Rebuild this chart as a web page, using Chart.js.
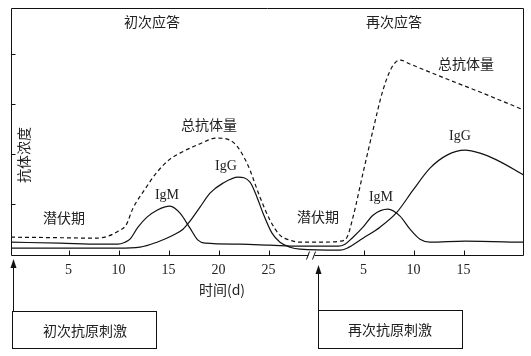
<!DOCTYPE html>
<html><head><meta charset="utf-8">
<script src="https://cdn.jsdelivr.net/npm/chart.js@4"></script>
<style>html,body{margin:0;padding:0;background:#fff}#wrap{width:531px;height:356px}</style>
</head><body><div id="wrap"><canvas id="c" width="531" height="356"></canvas></div>
<script>
// Continuous time axis: primary response in days; the secondary response is drawn after an axis break,
// its day 0 sitting at SECOND_OFFSET on the continuous axis.
const SECOND_OFFSET = 29.5;
const BREAK_AT = 29.3;
const tickValues = [5, 10, 15, 20, 25, SECOND_OFFSET + 5, SECOND_OFFSET + 10, SECOND_OFFSET + 15];
const tickLabels = ['5', '10', '15', '20', '25', '5', '10', '15'];
const yTickValues = [1, 2, 3, 4];

// 总抗体量 (dashed)
const totalX = [-0.75, 4.15, 7.65, 8.95, 9.95, 10.75, 11.45, 12.65, 13.85, 15.15, 16.15, 17.85, 19.85, 21.45, 22.85, 24.15, 25.15, 26.15, 27.15, 28.15, 30.15, 32.15, 32.85, 33.45, 34.45, 35.45, 36.45, 37.35, 38.15, 39.15, 42.85, 46.15, 50.55];
const totalY = [0.34, 0.33, 0.32, 0.36, 0.46, 0.58, 0.92, 1.30, 1.64, 1.90, 2.02, 2.18, 2.32, 2.24, 1.82, 1.14, 0.68, 0.38, 0.28, 0.24, 0.24, 0.26, 0.34, 0.74, 1.62, 2.48, 3.28, 3.74, 3.88, 3.80, 3.50, 3.24, 2.88];

// IgM (solid)
const igmX = [-0.75, 4.15, 8.15, 9.95, 10.65, 11.15, 11.95, 12.85, 13.85, 15.15, 16.15, 17.15, 17.95, 18.65, 22.15, 25.15, 28.15, 31.95, 32.65, 33.35, 34.45, 35.45, 36.95, 38.15, 39.15, 40.15, 41.15, 44.65, 50.55];
const igmY = [0.24, 0.22, 0.20, 0.20, 0.24, 0.30, 0.54, 0.74, 0.88, 0.96, 0.82, 0.52, 0.28, 0.22, 0.20, 0.18, 0.16, 0.16, 0.20, 0.32, 0.54, 0.78, 0.90, 0.76, 0.50, 0.30, 0.24, 0.26, 0.24];

// IgG (solid)
const iggX = [-0.75, 4.15, 9.95, 12.15, 13.85, 15.45, 16.45, 17.15, 18.15, 19.15, 20.45, 21.95, 23.15, 23.85, 24.45, 25.35, 26.15, 27.15, 28.15, 32.15, 32.85, 34.45, 36.15, 37.85, 39.45, 41.15, 42.85, 44.65, 46.15, 47.85, 50.55];
const iggY = [0.12, 0.12, 0.12, 0.14, 0.24, 0.38, 0.50, 0.66, 0.94, 1.22, 1.42, 1.54, 1.44, 1.14, 0.82, 0.42, 0.24, 0.14, 0.10, 0.08, 0.12, 0.32, 0.54, 0.84, 1.28, 1.72, 1.98, 2.08, 2.02, 1.88, 1.58];

const pts = (xs, ys) => xs.map((v, i) => ({x: v, y: ys[i]}));

const CJK = '"Noto Sans CJK SC", sans-serif';
const SERIF = '"Liberation Serif", "DejaVu Serif", serif';
const INK = '#111';

const deco = {
  id: 'deco',
  afterDraw(chart) {
    const {ctx, chartArea: a, scales: {x, y}} = chart;
    ctx.save();
    ctx.strokeStyle = INK; ctx.lineWidth = 1;
    const L = Math.round(a.left) + 0.5, R = Math.round(a.right) - 0.5;
    const T = Math.round(a.top) + 0.5, B = Math.round(a.bottom) - 0.5;
    const bx = x.getPixelForValue(BREAK_AT);
    // frame with axis break on the bottom
    ctx.beginPath();
    ctx.moveTo(bx - 3, B); ctx.lineTo(L, B); ctx.lineTo(L, T); ctx.lineTo(R, T); ctx.lineTo(R, B); ctx.lineTo(bx + 3, B);
    ctx.stroke();
    // break slashes
    ctx.beginPath();
    [bx - 3, bx + 3].forEach(sx => { ctx.moveTo(sx - 2, B + 4); ctx.lineTo(sx + 1, B - 4); });
    ctx.stroke();
    // inward tick marks
    ctx.beginPath();
    yTickValues.forEach(v => { const py = Math.round(y.getPixelForValue(v)) + 0.5; ctx.moveTo(L, py); ctx.lineTo(L + 4, py); });
    tickValues.forEach(v => { const px = Math.round(x.getPixelForValue(v)) + 0.5; ctx.moveTo(px, B); ctx.lineTo(px, B - 5); });
    ctx.stroke();

    // texts
    ctx.fillStyle = '#222'; ctx.textAlign = 'center'; ctx.textBaseline = 'middle';
    ctx.font = '14px ' + CJK;
    const cjkTexts = [['初次应答', 152, 22], ['再次应答', 394, 22], ['总抗体量', 209, 125], ['总抗体量', 466, 64],
      ['潜伏期', 64, 218], ['潜伏期', 318, 217], ['时间(d)', 222, 290]];
    cjkTexts.forEach(([t, px, py]) => ctx.fillText(t, px, py));
    ctx.font = '14px ' + SERIF;
    [['IgM', 167, 195], ['IgG', 226, 166], ['IgM', 381, 197], ['IgG', 460, 136]].forEach(([t, px, py]) => ctx.fillText(t, px, py));
    // y axis title
    ctx.save(); ctx.translate(24, 155); ctx.rotate(-Math.PI / 2);
    ctx.font = '14px ' + CJK; ctx.fillText('抗体浓度', 0, 0); ctx.restore();

    // boxes and arrows
    ctx.strokeStyle = INK; ctx.lineWidth = 1;
    ctx.strokeRect(12.5, 311.5, 144, 37);
    ctx.strokeRect(318.5, 310.5, 144, 38);
    ctx.font = '14px ' + CJK;
    ctx.fillText('初次抗原刺激', 85, 331);
    ctx.fillText('再次抗原刺激', 390, 330);
    const arrow = (ax, y0, y1) => {
      ctx.beginPath(); ctx.moveTo(ax, y0); ctx.lineTo(ax, y1 + 7); ctx.stroke();
      ctx.beginPath(); ctx.moveTo(ax, y1); ctx.lineTo(ax - 3, y1 + 9); ctx.lineTo(ax + 3, y1 + 9); ctx.closePath(); ctx.fill();
    };
    ctx.fillStyle = INK;
    arrow(13.5, 311, 259);
    arrow(318.5, 310, 265);
    ctx.restore();
  }
};

const common = {pointRadius: 0, borderColor: INK, borderWidth: 1.2, fill: false, cubicInterpolationMode: 'monotone'};
new Chart(document.getElementById('c'), {
  type: 'line',
  data: {
    datasets: [
      Object.assign({label: '总抗体量', data: pts(totalX, totalY), borderDash: [4, 3]}, common),
      Object.assign({label: 'IgM', data: pts(igmX, igmY)}, common),
      Object.assign({label: 'IgG', data: pts(iggX, iggY)}, common)
    ]
  },
  options: {
    responsive: false, animation: false,
    layout: {padding: {left: 11, right: 7, top: 8, bottom: 71}},
    plugins: {legend: {display: false}, tooltip: {enabled: false}},
    scales: {
      x: {
        type: 'linear', min: -0.75, max: 50.55,
        grid: {display: false, drawTicks: false}, border: {display: false},
        afterBuildTicks: s => { s.ticks = tickValues.map(v => ({value: v})); },
        ticks: {padding: 6, color: '#222', font: {family: SERIF, size: 14},
          callback: (v, i) => tickLabels[i], maxRotation: 0, autoSkip: false}
      },
      y: {
        min: -0.04, max: 4.92,
        grid: {display: false, drawTicks: false}, border: {display: false},
        ticks: {display: false}
      }
    }
  },
  plugins: [deco]
});
</script></body></html>
